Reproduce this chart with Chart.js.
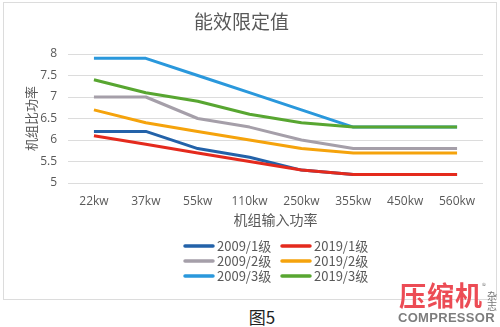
<!DOCTYPE html>
<html>
<head>
<meta charset="utf-8">
<script src="https://cdn.jsdelivr.net/npm/chart.js@4"></script>
<style>
  html, body { margin: 0; padding: 0; background: #fff; }
  body { width: 500px; height: 327px; position: relative; overflow: hidden;
         font-family: "Noto Sans CJK SC", "Noto Sans", sans-serif; }
  #frame { position: absolute; left: 3px; top: 2px; width: 492px; height: 296px;
           border: 1px solid #dcdcdc; }
  #wrap { position: absolute; left: 0; top: 0; width: 500px; height: 300px; }
  #caption { position: absolute; left: 0; width: 524px; top: 306px; text-align: center;
             font-size: 17px; color: #222; line-height: 22px; }
  #mark-cn { position: absolute; left: 399px; top: 280px; font-size: 27px; font-weight: 700;
             color: #ec4c55; letter-spacing: 1px; line-height: 30px; }
  #mark-reg { position: absolute; left: 482px; top: 280px; font-size: 8px; color: #888; }
  #mark-side { position: absolute; left: 487px; top: 291px; width: 11px; font-size: 10px;
               line-height: 10px; color: #777; }
  #mark-en { position: absolute; left: 398px; top: 310px; font-family: "Liberation Sans", Arial, sans-serif;
             font-size: 13px; font-weight: 700; color: #7d7d7d; letter-spacing: 0.3px; line-height: 15px; }
</style>
</head>
<body>
<div id="frame"></div>
<div id="wrap"><canvas id="chart" width="500" height="300"></canvas></div>
<div id="caption">图5</div>
<div id="mark-cn">压缩机</div>
<div id="mark-reg">®</div>
<div id="mark-side">杂志</div>
<div id="mark-en">COMPRESSOR</div>

<script>
// input power classes
const categories = ['22kw', '37kw', '55kw', '110kw', '250kw', '355kw', '450kw', '560kw'];

// specific power limits per grade
const grade1_2009 = [6.2, 6.2, 5.8, 5.6, 5.3, 5.2, 5.2, 5.2];
const grade1_2019 = [6.1, 5.9, 5.7, 5.5, 5.3, 5.2, 5.2, 5.2];
const grade2_2009 = [7.0, 7.0, 6.5, 6.3, 6.0, 5.8, 5.8, 5.8];
const grade2_2019 = [6.7, 6.4, 6.2, 6.0, 5.8, 5.7, 5.7, 5.7];
const grade3_2009 = [7.9, 7.9, 7.5, 7.1, 6.7, 6.3, 6.3, 6.3];
const grade3_2019 = [7.4, 7.1, 6.9, 6.6, 6.4, 6.3, 6.3, 6.3];

const Y_MIN = 5;
const Y_MAX = 8;
const Y_STEP = 0.5;

const TEXT = '#595959';

// legend order: rows of (2009, 2019)
const series = [
  { label: '2009/1级', data: grade1_2009, color: '#2362a9', order: 6 },
  { label: '2019/1级', data: grade1_2019, color: '#e42a1d', order: 3 },
  { label: '2009/2级', data: grade2_2009, color: '#a59fa9', order: 5 },
  { label: '2019/2级', data: grade2_2019, color: '#f5a30c', order: 2 },
  { label: '2009/3级', data: grade3_2009, color: '#2a98dc', order: 4 },
  { label: '2019/3级', data: grade3_2019, color: '#58a631', order: 1 },
];

// two-column legend under the axis title
const gridLegend = {
  id: 'gridLegend',
  afterDraw(chart) {
    const ctx = chart.ctx;
    const cols = [185, 282];
    const rows = [246, 261, 276];
    ctx.save();
    ctx.font = '13px "Noto Sans CJK SC", sans-serif';
    ctx.textBaseline = 'middle';
    chart.data.datasets.forEach((ds, i) => {
      const x = cols[i % 2];
      const y = rows[Math.floor(i / 2)];
      ctx.strokeStyle = ds.borderColor;
      ctx.lineWidth = 3.5;
      ctx.lineCap = 'round';
      ctx.beginPath();
      ctx.moveTo(x, y);
      ctx.lineTo(x + 28, y);
      ctx.stroke();
      ctx.fillStyle = TEXT;
      ctx.fillText(ds.label, x + 32, y + 0.5);
    });
    ctx.restore();
  },
};

new Chart(document.getElementById('chart'), {
  type: 'line',
  data: {
    labels: categories,
    datasets: series.map((s) => ({
      label: s.label,
      data: s.data,
      borderColor: s.color,
      backgroundColor: s.color,
      borderWidth: 3,
      pointRadius: 0,
      tension: 0,
      borderJoinStyle: 'round',
      order: s.order,
    })),
  },
  options: {
    responsive: false,
    animation: false,
    layout: { padding: { left: 0, right: 17, top: 0, bottom: 65 } },
    plugins: {
      legend: { display: false },
      tooltip: { enabled: false },
      title: {
        display: true,
        text: '能效限定值',
        color: TEXT,
        font: { size: 19, family: '"Noto Sans CJK SC", sans-serif', weight: 'normal', lineHeight: 1.2 },
        padding: { top: 10, bottom: 21.2 },
      },
    },
    scales: {
      x: {
        offset: true,
        grid: { display: false, drawTicks: false },
        border: { display: false },
        ticks: { color: TEXT, padding: 11, maxRotation: 0,
                 font: { size: 12, family: '"Open Sans", sans-serif' } },
        title: { display: true, text: '机组输入功率', color: TEXT,
                 font: { size: 14, family: '"Noto Sans CJK SC", sans-serif', lineHeight: 1.2 },
                 padding: { top: 0, bottom: 6.6 } },
        afterFit: (s) => { s.height = 52; },
      },
      y: {
        min: Y_MIN,
        max: Y_MAX,
        grid: { color: '#dcdcdc', lineWidth: 1, drawTicks: false },
        border: { display: false },
        ticks: { stepSize: Y_STEP, color: TEXT, padding: 11,
                 font: { size: 12, family: '"Open Sans", sans-serif' },
                 callback: (v) => String(v) },
        title: { display: true, text: '机组比功率', color: TEXT,
                 font: { size: 13, family: '"Noto Sans CJK SC", sans-serif', lineHeight: 1.2 },
                 padding: { top: 23, bottom: 0 } },
        afterFit: (s) => { s.width = 68; },
      },
    },
  },
  plugins: [gridLegend],
});
</script>
</body>
</html>
